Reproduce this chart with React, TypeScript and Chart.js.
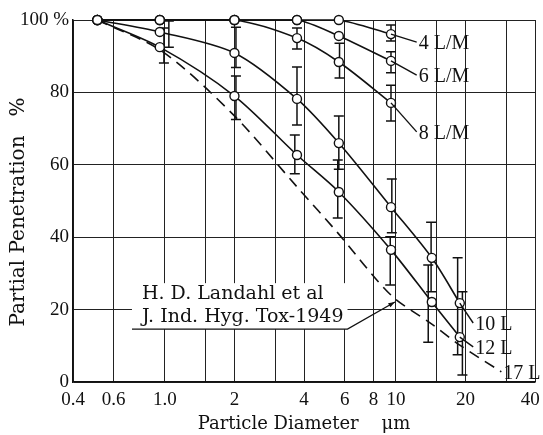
import React, { useEffect, useRef } from 'react';
import { Chart, registerables } from 'chart.js';

Chart.register(...registerables);

// ---- axis ticks ----
const xTickValues = [0.4, 0.6, 1, 1.5, 2, 3, 4, 6, 8, 10, 15, 20, 30, 40];
const xTickLabels = ['0.4', '0.6', '1.0', '', '2', '', '4', '6', '8', '10', '', '20', '', '40\u00a0\u00a0'];
const yTickLabels = ['0', '20', '40', '60', '80', '100 %'];

const xTitle = 'Particle Diameter\u00a0\u00a0\u00a0\u00a0μm';
const yTitle = 'Partial Penetration\u00a0\u00a0\u00a0%';

// ---- series (particle diameter µm, penetration %) ----
const diam4 = [0.51, 0.95, 2.0, 3.73, 5.66, 9.52];
const pen4 = [100, 100, 100, 100, 100, 96.1];
const diam6 = [0.51, 0.95, 2.0, 3.73, 5.66, 9.52];
const pen6 = [100, 100, 100, 100, 95.6, 88.7];
const diam8 = [0.51, 0.95, 2.0, 3.73, 5.66, 9.52];
const pen8 = [100, 100, 100, 95.0, 88.4, 77.1];
const diam10 = [0.51, 0.95, 2.0, 3.73, 5.66, 9.52, 14.3, 18.9];
const pen10 = [100, 96.7, 90.9, 78.2, 66.0, 48.3, 34.3, 21.8];
const diam12 = [0.51, 0.95, 2.0, 3.73, 5.66, 9.52, 14.3, 18.9];
const pen12 = [100, 92.5, 79.0, 62.7, 52.5, 36.5, 22.1, 12.4];
const diam17 = [0.51, 0.98, 2.0, 3.73, 5.6, 9.52, 14.3, 18.9, 28.6];
const pen17 = [100, 91.2, 73.5, 53.9, 41.2, 24.0, 16.0, 10.2, 2.8];

// ---- error bars [diameter, low, high] ----
const err4 = [[9.52, 94.2, 98.6]];
const err6 = [[9.52, 85.4, 91.2]];
const err8 = [[3.73, 92.0, 97.8], [5.7, 84.0, 93.6], [9.52, 72.1, 82.0]];
const err10 = [[1.04, 92.5, 99.7], [2.03, 86.9, 98.0], [3.73, 71.0, 87.0], [5.66, 58.8, 73.5], [9.6, 41.2, 56.1], [14.2, 24.9, 44.1], [18.5, 7.5, 34.3]];
const err12 = [[0.99, 88.1, 97.8], [2.03, 72.5, 84.5], [3.65, 57.5, 68.2], [5.6, 45.3, 61.3], [9.45, 26.8, 40.1], [13.8, 11.0, 32.3], [19.4, 1.9, 24.9]];

// ---- curve labels (leader end in data units) ----
const curveNames = ['4 L/M', '6 L/M', '8 L/M', '10 L', '12 L', '17 L'];
const labelDiam = [12.3, 12.3, 12.3, 21.6, 21.6, 28.6];
const labelPen = [93.9, 84.8, 69.1, 16.3, 9.7, 2.8];

// ---- reference note ----
const noteLines = ['H. D. Landahl et al', 'J. Ind. Hyg. Tox-1949'];
const noteAnchor = { x: 0.72, y: 14.6 };
const noteArrowTip = { x: 9.9, y: 22.1 };

const INK = '#111';

export default function App() {
  const ref = useRef<HTMLCanvasElement>(null);

  useEffect(() => {
    document.body.style.margin = '0';
    const canvas = ref.current;
    if (!canvas) return;

    const mk = (d: number[], p: number[]) => d.map((x, i) => ({ x, y: p[i] }));
    const solid = (label: string, d: number[], p: number[]) => ({
      label,
      data: mk(d, p),
      borderColor: INK,
      borderWidth: 1.6,
      pointRadius: 4.5,
      pointHoverRadius: 4.5,
      pointBackgroundColor: '#fff',
      pointBorderColor: INK,
      pointBorderWidth: 1.4,
      tension: 0.3,
      fill: false,
      clip: false as const,
    });

    const lastPoints = [
      [diam4[diam4.length - 1], pen4[pen4.length - 1]],
      [diam6[diam6.length - 1], pen6[pen6.length - 1]],
      [diam8[diam8.length - 1], pen8[pen8.length - 1]],
      [diam10[diam10.length - 1], pen10[pen10.length - 1]],
      [diam12[diam12.length - 1], pen12[pen12.length - 1]],
      [diam17[diam17.length - 1], pen17[pen17.length - 1]],
    ];

    const decor = {
      id: 'decor',
      beforeDatasetsDraw(chart: any) {
        const { ctx } = chart;
        const xs = chart.scales.x;
        const ys = chart.scales.y;
        ctx.save();
        // note box
        const u = xs.getPixelForValue(noteAnchor.x);
        const v = ys.getPixelForValue(noteAnchor.y);
        ctx.font = '19px "DejaVu Serif"';
        const w = Math.max(...noteLines.map((t) => ctx.measureText(t).width)) + 14;
        ctx.fillStyle = '#fff';
        ctx.fillRect(u, v - 46, w, 46);
        ctx.fillStyle = INK;
        ctx.textAlign = 'left';
        ctx.textBaseline = 'middle';
        ctx.fillText(noteLines[0], u + 10, v - 35);
        ctx.fillText(noteLines[1], u + 10, v - 12);
        ctx.strokeStyle = INK;
        ctx.lineWidth = 1.3;
        ctx.beginPath();
        ctx.moveTo(u, v);
        ctx.lineTo(u + w, v);
        const tx = xs.getPixelForValue(noteArrowTip.x);
        const ty = ys.getPixelForValue(noteArrowTip.y);
        ctx.lineTo(tx, ty);
        ctx.stroke();
        const ang = Math.atan2(ty - v, tx - (u + w));
        ctx.beginPath();
        ctx.moveTo(tx, ty);
        ctx.lineTo(tx - 7 * Math.cos(ang - 0.35), ty - 7 * Math.sin(ang - 0.35));
        ctx.lineTo(tx - 7 * Math.cos(ang + 0.35), ty - 7 * Math.sin(ang + 0.35));
        ctx.closePath();
        ctx.fill();

        // error bars
        ctx.lineWidth = 1.5;
        const groups = [err4, err6, err8, err10, err12];
        for (const g of groups) {
          for (const [x, lo, hi] of g) {
            const px = xs.getPixelForValue(x);
            const y1 = ys.getPixelForValue(lo);
            const y2 = ys.getPixelForValue(hi);
            ctx.beginPath();
            ctx.moveTo(px, y1);
            ctx.lineTo(px, y2);
            ctx.moveTo(px - 5, y1);
            ctx.lineTo(px + 5, y1);
            ctx.moveTo(px - 5, y2);
            ctx.lineTo(px + 5, y2);
            ctx.stroke();
          }
        }
        ctx.restore();
      },
      afterDatasetsDraw(chart: any) {
        const { ctx, chartArea } = chart;
        const xs = chart.scales.x;
        const ys = chart.scales.y;
        ctx.save();
        ctx.strokeStyle = INK;
        ctx.fillStyle = INK;
        ctx.lineWidth = 1.4;
        ctx.font = '20px "Liberation Serif"';
        ctx.textAlign = 'left';
        ctx.textBaseline = 'middle';
        curveNames.forEach((name, i) => {
          const x0 = xs.getPixelForValue(lastPoints[i][0]);
          const y0 = ys.getPixelForValue(lastPoints[i][1]);
          const x1 = xs.getPixelForValue(labelDiam[i]);
          const y1 = ys.getPixelForValue(labelPen[i]);
          ctx.beginPath();
          ctx.moveTo(x0, y0);
          ctx.lineTo(x1, y1);
          ctx.stroke();
          ctx.fillText(name, x1 + 2, y1 + 2);
        });
        // axis titles
        ctx.font = '18px "DejaVu Serif"';
        ctx.textAlign = 'center';
        ctx.fillText(xTitle, (chartArea.left + chartArea.right) / 2, 424);
        ctx.font = '20px "DejaVu Serif"';
        ctx.translate(19, 212);
        ctx.rotate(-Math.PI / 2);
        ctx.fillText(yTitle, 0, 0);
        ctx.restore();
      },
    };

    const tickFont = { family: 'Liberation Serif', size: 19 };

    const chart = new Chart(canvas, {
      type: 'line',
      data: {
        datasets: [
          solid('4 L/M', diam4, pen4),
          solid('6 L/M', diam6, pen6),
          solid('8 L/M', diam8, pen8),
          solid('10 L', diam10, pen10),
          solid('12 L', diam12, pen12),
          {
            label: '17 L',
            data: mk(diam17, pen17),
            borderColor: INK,
            borderWidth: 1.6,
            borderDash: [11, 7],
            pointRadius: 0,
            tension: 0.3,
            fill: false,
            clip: false,
          } as any,
        ],
      },
      options: {
        responsive: false,
        animation: false,
        events: [],
        layout: { padding: { top: 20, right: 8, bottom: 0, left: 0 } },
        plugins: {
          legend: { display: false },
          tooltip: { enabled: false },
        },
        scales: {
          x: {
            type: 'logarithmic',
            min: 0.4,
            max: 40,
            afterBuildTicks: (s: any) => {
              s.ticks = xTickValues.map((v) => ({ value: v }));
            },
            afterFit: (s: any) => {
              s.height = 53;
              s.paddingLeft = 0;
              s.paddingRight = 0;
            },
            ticks: {
              autoSkip: false,
              maxRotation: 0,
              minRotation: 0,
              padding: 7,
              color: INK,
              font: tickFont,
              callback: (_v: any, i: number) => xTickLabels[i],
            },
            grid: { color: '#222', lineWidth: 1, drawTicks: false },
            border: { color: INK, width: 1.5 },
          },
          y: {
            type: 'linear',
            min: 0,
            max: 100,
            afterFit: (s: any) => {
              s.width = 73;
              s.paddingTop = 0;
              s.paddingBottom = 0;
            },
            ticks: {
              stepSize: 20,
              padding: 4,
              color: INK,
              font: tickFont,
              callback: (_v: any, i: number) => yTickLabels[i],
            },
            grid: { color: '#222', lineWidth: 1, drawTicks: false },
            border: { color: INK, width: 1.5 },
          },
        },
      },
      plugins: [decor],
    });

    return () => chart.destroy();
  }, []);

  return <canvas ref={ref} width={543} height={435} style={{ display: 'block' }} />;
}
